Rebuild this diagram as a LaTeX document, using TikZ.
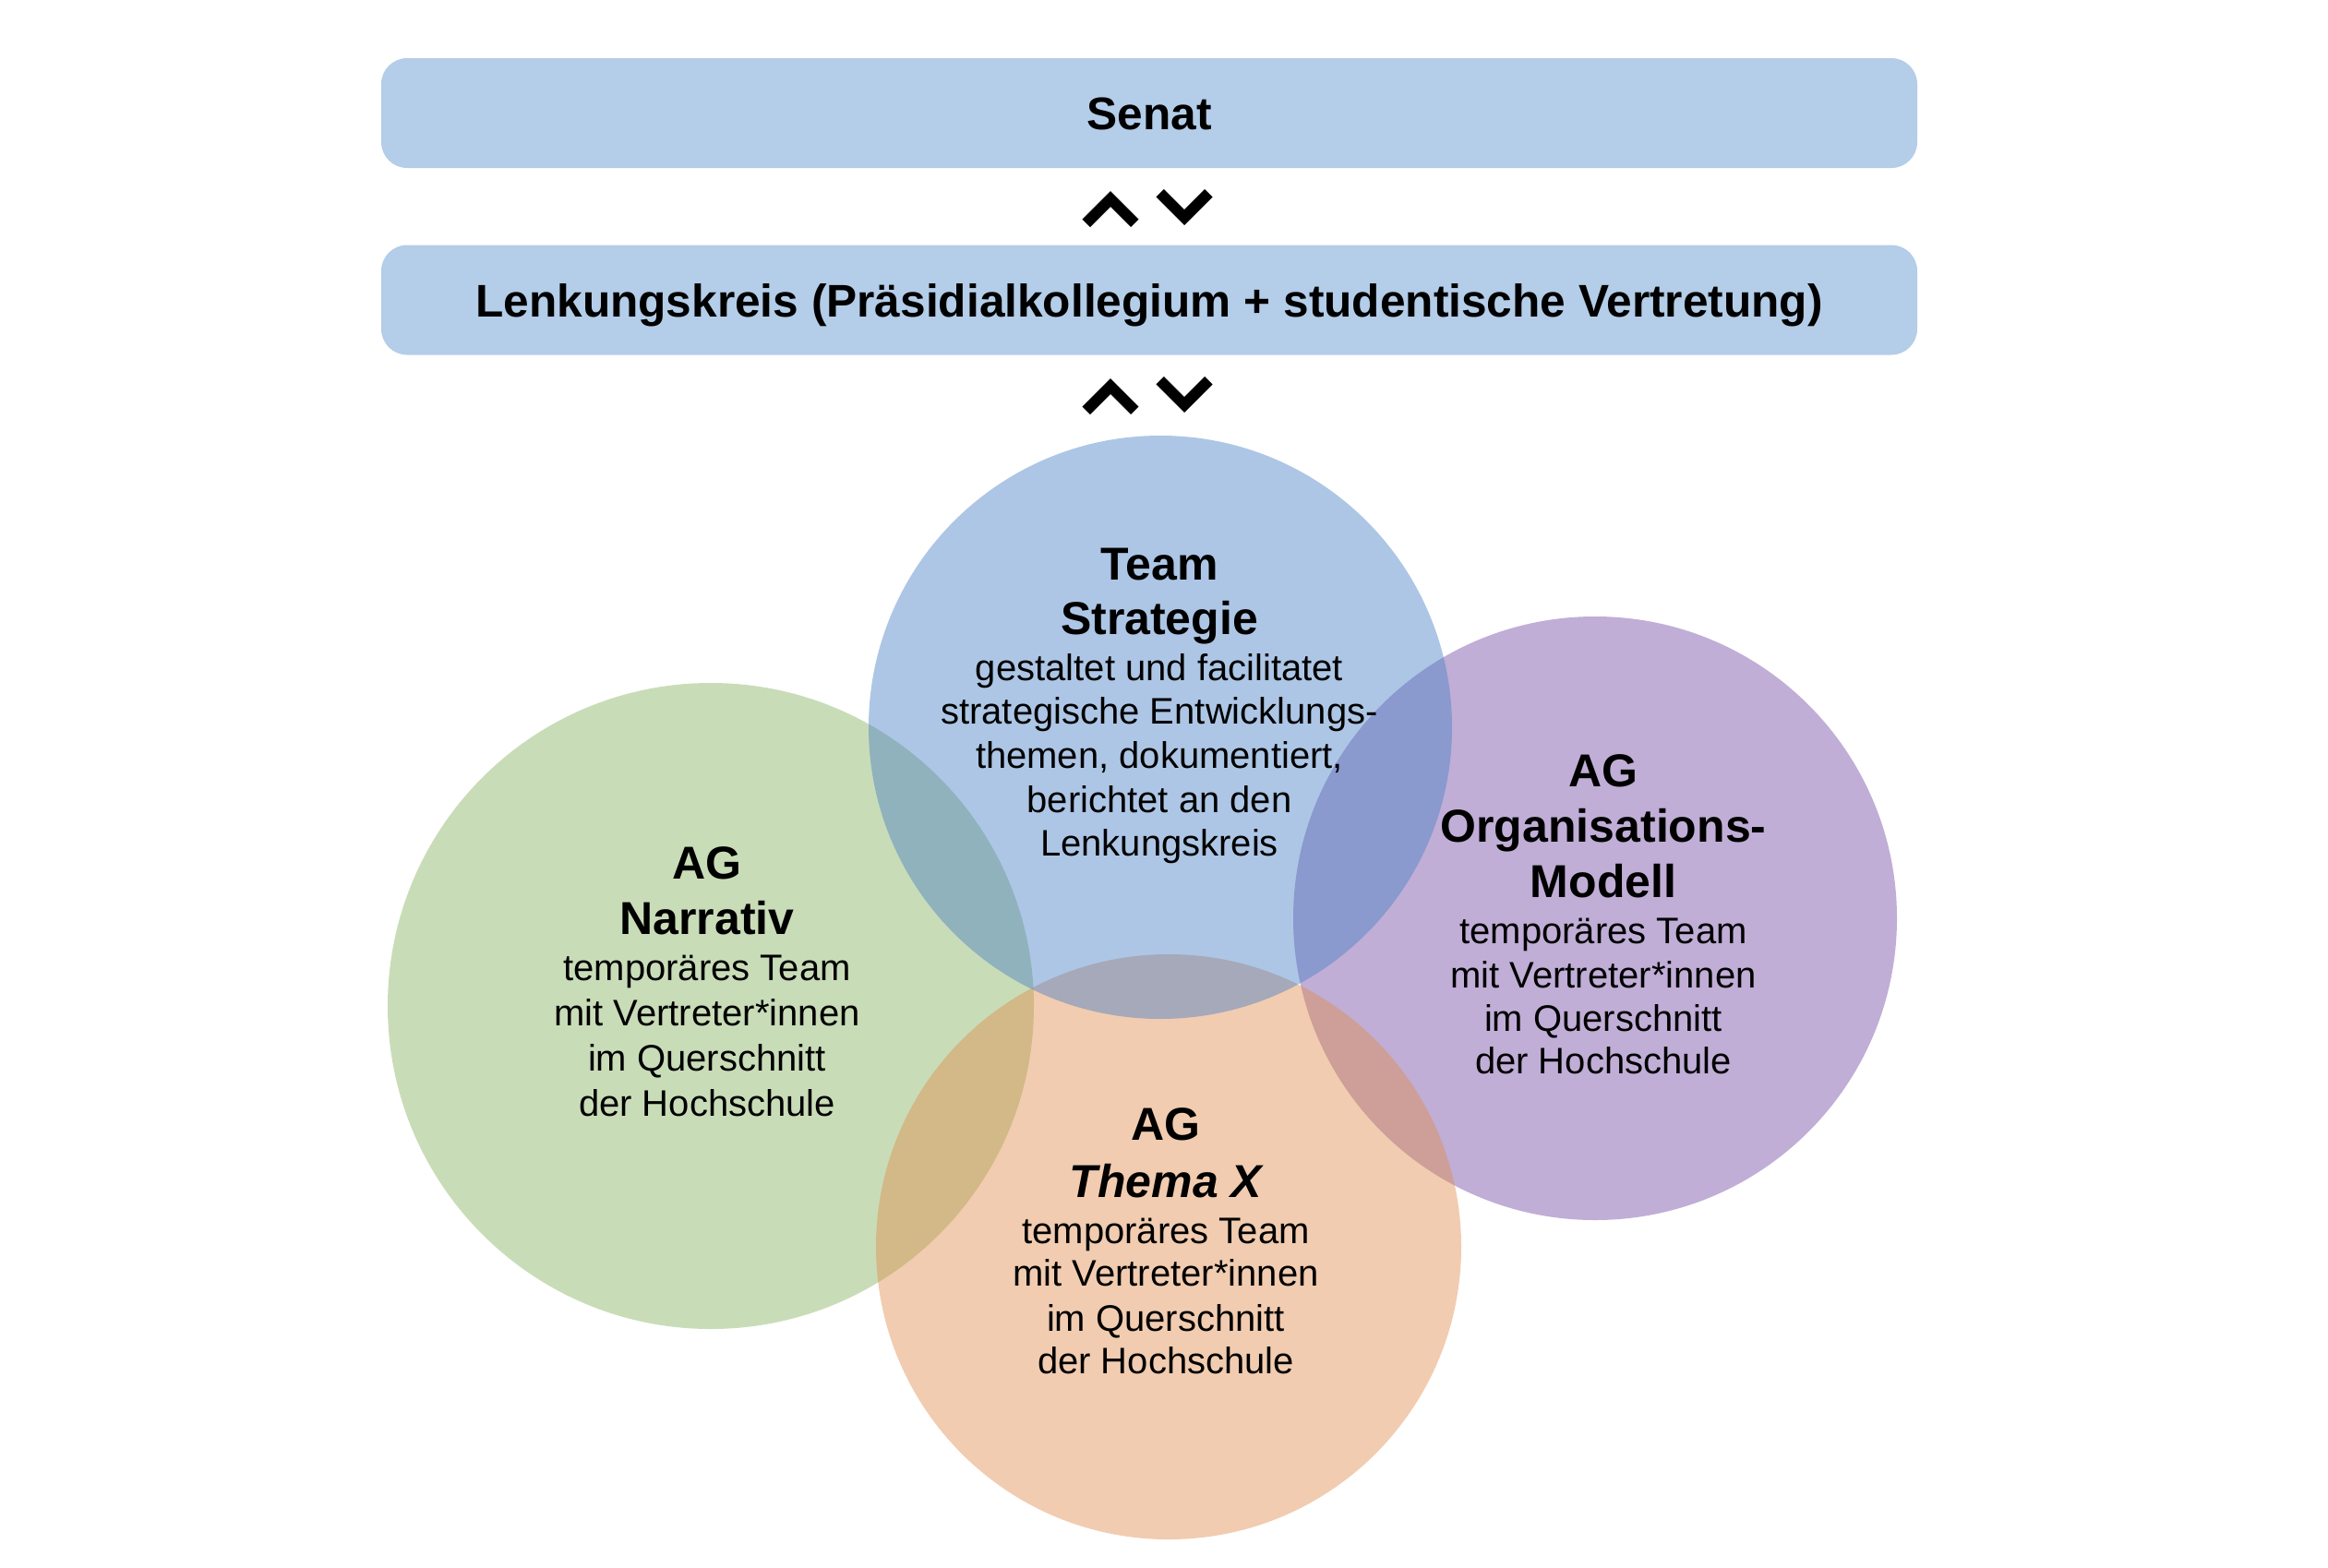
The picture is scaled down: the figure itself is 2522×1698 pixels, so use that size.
\documentclass[tikz,border=0pt]{standalone}
\usepackage{fontspec}
\setmainfont{Liberation Sans}
\definecolor{boxblue}{RGB}{180,205,232}
\definecolor{cblue}{RGB}{73,128,197}
\definecolor{cgreen}{RGB}{135,177,97}
\definecolor{cpurple}{RGB}{115,75,164}
\definecolor{corange}{RGB}{224,142,79}
\begin{document}
\begin{tikzpicture}[x=1pt,y=-1pt,
  box/.style={rectangle, rounded corners=28pt, fill=boxblue, minimum width=1664pt, minimum height=119pt, inner sep=0pt, text height=36pt, text depth=0pt, font=\fontsize{49.6}{60}\selectfont\bfseries},
  circ/.style={circle, inner sep=0pt, fill opacity=0.45},
  ttl/.style={anchor=base, inner sep=0pt, font=\fontsize{50}{60}\selectfont\bfseries},
  bdy/.style={anchor=base, inner sep=0pt, font=\fontsize{40}{48}\selectfont},
  chev/.style={line width=12pt, line join=miter, line cap=butt}]
\useasboundingbox (0,0) rectangle (2522,1698);

% boxes
\node[box] (senat) at (1245,122.5) {Senat};
\node[box] (lenk) at (1245,325) {Lenkungskreis (Präsidialkollegium + studentische Vertretung)};

% chevrons
\draw[chev] (1176.7,241.8) -- (1203,215.5) -- (1229.3,241.8);
\draw[chev] (1256.7,209.2) -- (1283,235.5) -- (1309.3,209.2);
\draw[chev] (1176.7,444.8) -- (1203,418.5) -- (1229.3,444.8);
\draw[chev] (1256.7,412.2) -- (1283,438.5) -- (1309.3,412.2);

% circles
\node[circ, fill=cgreen, minimum size=700pt] (green) at (770,1090) {};
\node[circ, fill=cpurple, minimum size=654pt] (purple) at (1728,995) {};
\node[circ, fill=corange, minimum size=634pt] (orange) at (1266,1351) {};
\node[circ, fill=cblue, minimum size=632pt] (blue) at (1257,788) {};

% Team Strategie
\node[ttl] (b1) at (1256,628) {Team};
\node[ttl] (b2) at (1256,687) {Strategie};
\node[bdy] (b3) at (1256,737) {gestaltet und facilitatet};
\node[bdy] (b4) at (1256,784) {strategische Entwicklungs-};
\node[bdy] (b5) at (1256,832) {themen, dokumentiert,};
\node[bdy] (b6) at (1256,880) {berichtet an den};
\node[bdy] (b7) at (1256,927) {Lenkungskreis};

% AG Narrativ
\node[ttl] (g1) at (766,952) {AG};
\node[ttl] (g2) at (766,1012) {Narrativ};
\node[bdy] (g3) at (766,1062) {temporäres Team};
\node[bdy] (g4) at (766,1111) {mit Vertreter*innen};
\node[bdy] (g5) at (766,1160) {im Querschnitt};
\node[bdy] (g6) at (766,1209) {der Hochschule};

% AG Organisations-Modell
\node[ttl] (p1) at (1737,852) {AG};
\node[ttl] (p2) at (1737,912) {Organisations-};
\node[ttl] (p3) at (1737,972) {Modell};
\node[bdy] (p4) at (1737,1022) {temporäres Team};
\node[bdy] (p5) at (1737,1070) {mit Vertreter*innen};
\node[bdy] (p6) at (1737,1117) {im Querschnitt};
\node[bdy] (p7) at (1737,1163) {der Hochschule};

% AG Thema X
\node[ttl] (o1) at (1263,1235) {AG};
\node[ttl] (o2) at (1263,1297) {\itshape Thema X};
\node[bdy] (o3) at (1263,1347) {temporäres Team};
\node[bdy] (o4) at (1263,1393) {mit Vertreter*innen};
\node[bdy] (o5) at (1263,1442) {im Querschnitt};
\node[bdy] (o6) at (1263,1488) {der Hochschule};
\end{tikzpicture}
\end{document}
